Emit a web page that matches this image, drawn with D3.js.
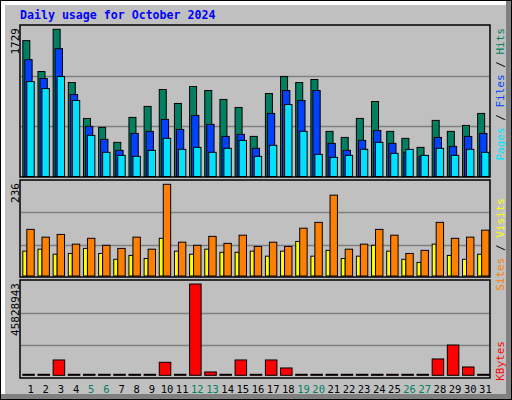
<!DOCTYPE html>
<html><head><meta charset="utf-8">
<script src="https://cdn.jsdelivr.net/npm/d3@7/dist/d3.min.js"></script>
<style>body{margin:0;background:#fff}svg{display:block}</style>
</head><body><svg id="c" width="512" height="400"></svg>
<script>
const days = d3.range(1,32);
const weekend = [5,6,12,13,19,20,26,27];
const hits  = [1596,1233,1729,1104,682,577,401,694,823,1022,858,1057,1010,905,811,471,975,1174,1104,1139,530,459,682,881,530,448,342,659,530,600,741];
const files = [1373,1151,1502,963,588,436,307,506,530,670,553,717,612,471,495,331,741,1010,893,1010,389,307,424,541,389,284,237,459,354,471,506];
const pages = [1115,1033,1174,893,483,284,248,237,307,448,319,342,284,331,424,237,366,846,530,260,225,248,319,401,272,319,248,331,248,319,284];
const sites = [64,69,56,58,71,58,43,53,45,97,64,56,69,61,61,64,51,64,89,51,66,45,51,79,64,43,35,82,53,43,56];
const visits= [120,100,107,82,97,79,71,100,69,236,87,79,102,84,105,76,87,76,123,138,208,69,82,120,105,58,66,138,97,100,118];
const kbytes= [150000,150000,7690000,150000,150000,150000,150000,150000,150000,6520000,150000,45828943,1670000,150000,7690000,150000,7690000,3680000,150000,150000,150000,150000,150000,150000,150000,150000,150000,8200000,15200000,4180000,150000];
const maxLabels = ["1729","236","45828943"];

const svg = d3.select("#c");
const mono = "DejaVu Sans Mono, monospace";
// outer frame
svg.append("rect").attr("x",0).attr("y",0).attr("width",512).attr("height",400).attr("fill","#000");
svg.append("rect").attr("x",1).attr("y",1).attr("width",506).attr("height",394).attr("fill","#808080");
svg.append("rect").attr("x",1).attr("y",1).attr("width",505).attr("height",393).attr("fill","#fff");
svg.append("rect").attr("x",5).attr("y",5).attr("width",501).attr("height",389).attr("fill","#c0c0c0");
svg.append("rect").attr("x",507).attr("y",1).attr("width",4).attr("height",398).attr("fill","#808080");
svg.append("rect").attr("x",1).attr("y",395).attr("width",510).attr("height",4).attr("fill","#808080");

svg.append("text").attr("x",20).attr("y",19).attr("font-family",mono).attr("font-weight","bold")
  .attr("font-size",11.6).attr("fill","#0000ff").text("Daily usage for October 2024");

const x = d3.scaleBand().domain(days).range([21,491]).paddingInner(0.24).paddingOuter(0.12);

const panels = [
 {top:25,bot:177,base:176.5,maxTop:29.3,max:1729,label:maxLabels[0]},
 {top:180,bot:277,base:276,maxTop:184.3,max:236,label:maxLabels[1]},
 {top:280,bot:378,base:375.3,maxTop:284,max:45828943,label:maxLabels[2]}
];
panels.forEach(p=>{
  svg.append("rect").attr("x",20).attr("y",p.top).attr("width",470).attr("height",p.bot-p.top)
    .attr("fill","#c0c0c0").attr("stroke","#000").attr("stroke-width",1.5);
  const h=p.bot-p.top;
  [1/3,2/3].forEach(f=>svg.append("line").attr("x1",21).attr("x2",489)
    .attr("y1",Math.round(p.top+h*f)+0.5).attr("y2",Math.round(p.top+h*f)+0.5).attr("stroke","#808080").attr("stroke-width",1.5));
  p.y = d3.scaleLinear().domain([0,p.max]).range([p.base,p.maxTop]);
  svg.append("text").attr("transform",`translate(19,${p.top+3}) rotate(-90)`).attr("text-anchor","end")
    .attr("font-family",mono).attr("font-size",11).attr("fill","#000").text(p.label);
});

function bars(data,p,off,w,color){
  svg.append("g").selectAll("rect").data(data).join("rect")
    .attr("x",(d,i)=>x(days[i])+off).attr("width",w)
    .attr("y",d=>Math.min(p.y(d),p.base-1)).attr("height",d=>Math.max(p.base-p.y(d),1))
    .attr("fill",color).attr("stroke","#000").attr("stroke-width",1);
}
const bw = x.bandwidth();
bars(hits,panels[0],0,7,"#008060");
bars(files,panels[0],2,7.3,"#0040ff");
bars(pages,panels[0],4,7.4,"#00e0ff");
bars(sites,panels[1],0,4,"#ffff00");
bars(visits,panels[1],4,7.4,"#ff8000");
bars(kbytes,panels[2],0,bw,"#ff0000");

svg.append("g").selectAll("text").data(days).join("text")
  .attr("x",d=>x(d)+bw/2+2).attr("y",393).attr("text-anchor","middle")
  .attr("font-family",mono).attr("font-size",10.5)
  .attr("fill",d=>weekend.includes(d)?"#008060":"#000").text(d=>d);

function sideLabel(parts,yEnd){
  const t=svg.append("text").attr("transform",`translate(504,${yEnd}) rotate(-90)`)
    .attr("text-anchor","end").attr("font-family",mono).attr("font-size",11);
  parts.forEach(([s,c])=>t.append("tspan").attr("fill",c).text(s));
}
sideLabel([["Pages","#00e0ff"],[" / ","#000"],["Files","#0040ff"],[" / ","#000"],["Hits","#008060"]],28);
sideLabel([["Sites","#ff8000"],[" / ","#000"],["Visits","#ffff00"]],198);
sideLabel([["KBytes","#ff0000"]],341);
</script></body></html>
